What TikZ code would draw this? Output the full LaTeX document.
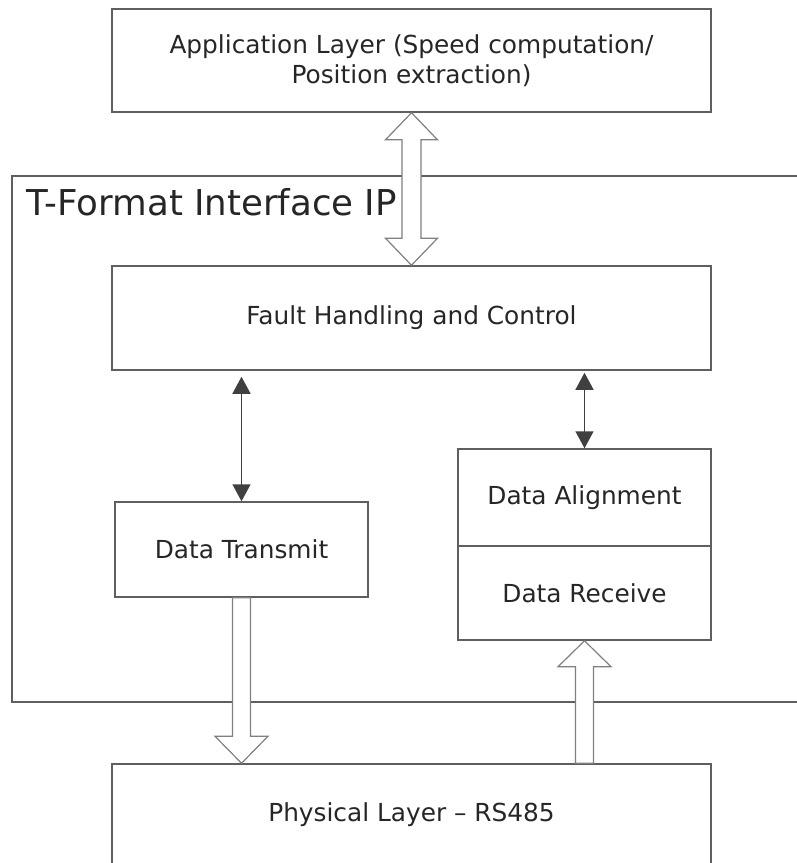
\documentclass[tikz,border=0pt]{standalone}
\usepackage{fontspec}
\setmainfont{DejaVu Sans}
\usetikzlibrary{positioning,calc,arrows.meta}
\definecolor{boxLine}{HTML}{5F5F5F}
\definecolor{arrowLine}{HTML}{808080}
\definecolor{ctrlLine}{HTML}{404040}
\tikzset{
  layer/.style={rectangle, draw=boxLine, line width=1.5pt, fill=white, minimum width=599pt,
    text=black!85, font=\fontsize{24.8}{30}\selectfont, align=center},
  block/.style={layer, minimum width=253pt},
  frame/.style={draw=boxLine, line width=1.5pt},
  ctrlArrow/.style={draw=ctrlLine, line width=1.5pt,
    {Triangle[width=18pt,length=17pt]}-{Triangle[width=18pt,length=17pt]}},
  dataArrow/.style={draw=arrowLine, line width=1.2pt, fill=white, line join=miter}
}

\begin{document}
\begin{tikzpicture}[x=1pt, y=-1pt]
  \useasboundingbox (0,0) rectangle (797,863);
  % IP frame
  \draw[frame] (12,176) rectangle (830,702);
  \node[anchor=base west, inner sep=0pt, text=black!85, font=\fontsize{35.6}{40}\selectfont] (ipTitle) at (26,215) {T-Format Interface IP};

  \node[layer, minimum height=103pt] (app) at (411.5,60.5) {Application Layer (Speed computation/\\Position extraction)};
  \node[layer, minimum height=104pt] (fault) at (411.5,318) {Fault Handling and Control};
  \node[block, minimum height=95pt] (tx) at (241.5,549.5) {Data Transmit};
  \node[block, minimum height=97pt] (align) at (584.5,497.5) {Data Alignment};
  \node[block, minimum height=94pt] (recv) at (584.5,593) {Data Receive};
  \node[layer, minimum height=102pt] (phys) at (411.5,815) {Physical Layer -- RS485};

  % control paths
  \draw[ctrlArrow, shorten <=6pt] (tx.north |- fault.south) -- (tx.north);
  \draw[ctrlArrow, shorten <=2pt] (align.north |- fault.south) -- (align.north);

  % data paths
  \draw[dataArrow] let \p1=(app.south), \p2=(fault.north) in
    (\x1,\y1) -- (\x1+26,\y1-27) -- (\x1+9.5,\y1-27) -- (\x1+9.5,\y2+27) -- (\x1+26,\y2+27)
    -- (\x2,\y2) -- (\x1-26,\y2+27) -- (\x1-9.5,\y2+27) -- (\x1-9.5,\y1-27) -- (\x1-26,\y1-27) -- cycle;
  \draw[dataArrow] let \p1=(tx.south), \p2=(tx.south |- phys.north) in
    (\x1-9,\y1) -- (\x1+9,\y1) -- (\x1+9,\y2+27) -- (\x1+26.5,\y2+27) -- (\x2,\y2)
    -- (\x1-26.5,\y2+27) -- (\x1-9,\y2+27) -- cycle;
  \draw[dataArrow] let \p1=(recv.south), \p2=(recv.south |- phys.north) in
    (\x1,\y1) -- (\x1+26.5,\y1-26) -- (\x1+9,\y1-26) -- (\x1+9,\y2) -- (\x1-9,\y2)
    -- (\x1-9,\y1-26) -- (\x1-26.5,\y1-26) -- cycle;
\end{tikzpicture}
\end{document}
